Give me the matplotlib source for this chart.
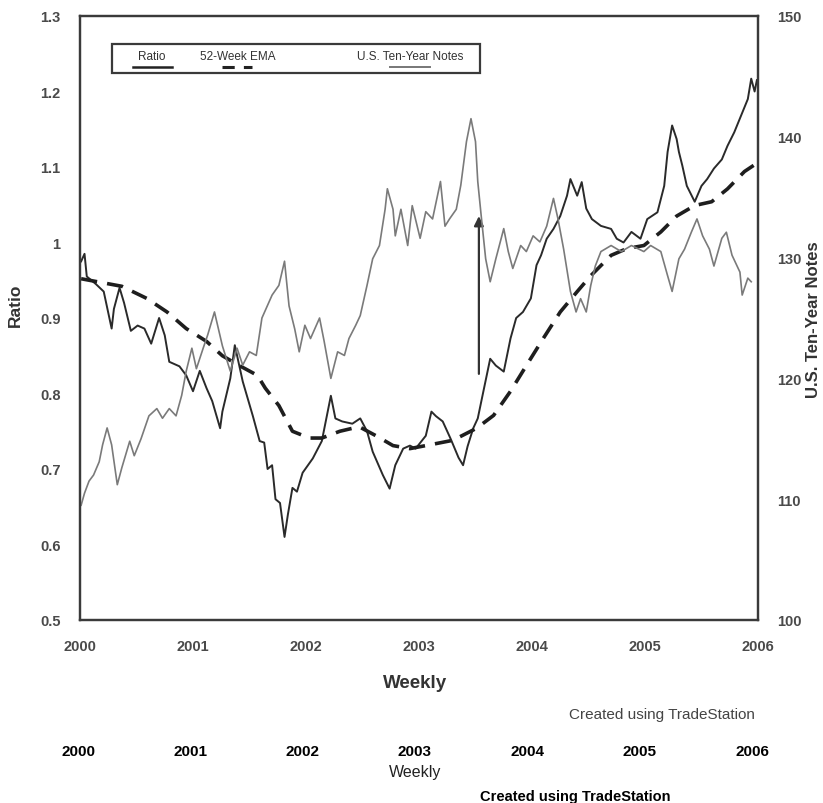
import matplotlib
matplotlib.use("Agg")
import matplotlib.pyplot as plt
from matplotlib.lines import Line2D
from matplotlib.patches import Rectangle

plt.rcParams["font.family"] = ["Liberation Sans", "DejaVu Sans"]

# ---------------- data ----------------
ratio_years = [2000.01, 2000.04, 2000.06, 2000.14, 2000.21, 2000.28, 2000.30, 2000.35, 2000.39,
               2000.45, 2000.51, 2000.57, 2000.63, 2000.70, 2000.75, 2000.79, 2000.88, 2000.94,
               2001.00, 2001.06, 2001.12, 2001.17, 2001.24, 2001.26, 2001.33, 2001.37, 2001.44,
               2001.53, 2001.59, 2001.63, 2001.66, 2001.70, 2001.73, 2001.77, 2001.81, 2001.84,
               2001.88, 2001.92, 2001.97, 2002.06, 2002.14, 2002.22, 2002.26, 2002.32, 2002.41,
               2002.48, 2002.54, 2002.59, 2002.68, 2002.74, 2002.79, 2002.86, 2002.92, 2002.97,
               2003.06, 2003.11, 2003.15, 2003.21, 2003.28, 2003.35, 2003.39, 2003.43, 2003.48,
               2003.52, 2003.57, 2003.63, 2003.68, 2003.75, 2003.81, 2003.86, 2003.92, 2003.99,
               2004.04, 2004.08, 2004.13, 2004.19, 2004.25, 2004.31, 2004.34, 2004.40, 2004.44,
               2004.48, 2004.53, 2004.61, 2004.70, 2004.75, 2004.81, 2004.88, 2004.96, 2005.02,
               2005.11, 2005.17, 2005.20, 2005.24, 2005.28, 2005.30, 2005.33, 2005.37, 2005.44,
               2005.50, 2005.55, 2005.61, 2005.68, 2005.73, 2005.79, 2005.85, 2005.91, 2005.94,
               2005.97, 2005.99]
ratio_values = [0.975, 0.985, 0.955, 0.945, 0.935, 0.886, 0.912, 0.940, 0.920,
                0.883, 0.890, 0.886, 0.866, 0.900, 0.877, 0.842, 0.836, 0.824,
                0.803, 0.830, 0.807, 0.790, 0.754, 0.776, 0.820, 0.864, 0.816,
                0.770, 0.737, 0.735, 0.700, 0.705, 0.660, 0.655, 0.610, 0.640,
                0.675, 0.670, 0.695, 0.714, 0.737, 0.797, 0.767, 0.763, 0.760,
                0.767, 0.750, 0.723, 0.692, 0.674, 0.705, 0.727, 0.731, 0.727,
                0.744, 0.776, 0.770, 0.763, 0.740, 0.715, 0.705, 0.730, 0.754,
                0.767, 0.803, 0.846, 0.837, 0.829, 0.873, 0.900, 0.908, 0.926,
                0.970, 0.983, 1.005, 1.018, 1.035, 1.062, 1.084, 1.062, 1.080,
                1.045, 1.031, 1.022, 1.018, 1.005, 1.000, 1.014, 1.005, 1.031,
                1.040, 1.075, 1.120, 1.155, 1.137, 1.120, 1.102, 1.075, 1.054,
                1.075, 1.084, 1.098, 1.110, 1.128, 1.146, 1.168, 1.190, 1.217,
                1.200, 1.215]

ema_years = [2000.01, 2000.37, 2000.59, 2000.77, 2000.94, 2001.12, 2001.26, 2001.41, 2001.57,
             2001.64, 2001.76, 2001.88, 2002.03, 2002.14, 2002.30, 2002.47, 2002.62, 2002.77,
             2002.92, 2003.06, 2003.30, 2003.51, 2003.66, 2003.81, 2003.95, 2004.10, 2004.25,
             2004.40, 2004.52, 2004.70, 2004.84, 2004.99, 2005.14, 2005.28, 2005.44, 2005.59,
             2005.73, 2005.88, 2005.99]
ema_values = [0.952, 0.942, 0.926, 0.908, 0.886, 0.869, 0.850, 0.837, 0.824,
              0.807, 0.784, 0.750, 0.741, 0.741, 0.750, 0.756, 0.744, 0.731,
              0.727, 0.731, 0.738, 0.754, 0.771, 0.803, 0.837, 0.873, 0.908,
              0.935, 0.956, 0.983, 0.992, 0.996, 1.014, 1.035, 1.049, 1.054,
              1.071, 1.094, 1.105]

notes_years = [2000.01, 2000.04, 2000.08, 2000.12, 2000.17, 2000.20, 2000.24, 2000.28, 2000.33,
               2000.37, 2000.44, 2000.48, 2000.54, 2000.61, 2000.68, 2000.73, 2000.79, 2000.85,
               2000.90, 2000.94, 2000.99, 2001.03, 2001.09, 2001.13, 2001.19, 2001.26, 2001.33,
               2001.39, 2001.44, 2001.50, 2001.56, 2001.61, 2001.70, 2001.76, 2001.81, 2001.85,
               2001.90, 2001.94, 2001.99, 2002.04, 2002.12, 2002.16, 2002.22, 2002.28, 2002.34,
               2002.38, 2002.44, 2002.48, 2002.54, 2002.59, 2002.65, 2002.70, 2002.72, 2002.77,
               2002.79, 2002.84, 2002.90, 2002.94, 2003.01, 2003.06, 2003.12, 2003.19, 2003.23,
               2003.27, 2003.33, 2003.37, 2003.42, 2003.46, 2003.50, 2003.52, 2003.55, 2003.59,
               2003.63, 2003.68, 2003.75, 2003.79, 2003.83, 2003.90, 2003.95, 2004.01, 2004.07,
               2004.13, 2004.19, 2004.23, 2004.28, 2004.34, 2004.39, 2004.43, 2004.48, 2004.52,
               2004.56, 2004.61, 2004.70, 2004.79, 2004.88, 2004.99, 2005.05, 2005.14, 2005.20,
               2005.24, 2005.30, 2005.35, 2005.41, 2005.46, 2005.51, 2005.57, 2005.61, 2005.68,
               2005.72, 2005.77, 2005.84, 2005.86, 2005.91, 2005.94]
notes_values = [109.5, 110.5, 111.5, 112.0, 113.1, 114.5, 115.9, 114.5, 111.2,
                112.6, 114.8, 113.6, 115.0, 116.9, 117.5, 116.7, 117.5, 116.9,
                118.6, 120.6, 122.5, 120.8, 122.5, 123.6, 125.5, 122.7, 120.6,
                122.5, 121.1, 122.2, 121.9, 125.0, 126.9, 127.7, 129.7, 126.0,
                124.1, 122.2, 124.4, 123.3, 125.0, 123.1, 120.0, 122.2, 121.9,
                123.3, 124.4, 125.2, 127.7, 129.9, 131.0, 134.0, 135.7, 134.0,
                131.8, 134.0, 131.0, 134.3, 131.6, 133.8, 133.2, 136.3, 132.6,
                133.2, 134.0, 136.0, 139.6, 141.5, 139.6, 136.3, 133.5, 129.9,
                128.0, 129.9, 132.4, 130.5, 129.1, 131.0, 130.5, 131.8, 131.3,
                132.6, 134.9, 133.2, 130.7, 127.2, 125.5, 126.6, 125.5, 127.7,
                129.3, 130.5, 131.0, 130.5, 131.0, 130.5, 131.0, 130.5, 128.5,
                127.2, 129.9, 130.7, 132.1, 133.2, 131.8, 130.7, 129.3, 131.6,
                132.1, 130.2, 128.8, 126.9, 128.3, 128.0]

year_ticks = [2000, 2001, 2002, 2003, 2004, 2005, 2006]
ratio_ticks = [0.5, 0.6, 0.7, 0.8, 0.9, 1.0, 1.1, 1.2, 1.3]
ratio_tick_labels = ["0.5", "0.6", "0.7", "0.8", "0.9", "1", "1.1", "1.2", "1.3"]
notes_ticks = [100, 110, 120, 130, 140, 150]
arrow_year = 2003.53
arrow_from = 0.826
arrow_to = 1.035

# ---------------- figure ----------------
W, H = 823, 804
fig = plt.figure(figsize=(W / 100, H / 100), dpi=100)
fig.patch.set_facecolor("white")

def fx(px):
    return px / W

def fy(py):
    return 1 - py / H

ax = fig.add_axes([fx(80), fy(621), fx(758) - fx(80), fy(17) - fy(621)])
ax2 = ax.twinx()

ink = "#3a3a3a"
gray_text = "#4a4a4a"

ax.plot(ratio_years, ratio_values, color="#2a2a2a", lw=1.4, zorder=3)
ax.plot(ema_years, ema_values, color="#1e1e1e", lw=2.6, dashes=(4.5, 2.8), zorder=4)
ax2.plot(notes_years, notes_values, color="#7a7a7a", lw=1.2, zorder=2)

ax.set_xlim(2000, 2006)
ax.set_ylim(0.5, 1.3)
ax2.set_ylim(100, 150)

ax.set_xticks(year_ticks)
ax.set_xticklabels([str(y) for y in year_ticks])
ax.set_yticks(ratio_ticks)
ax.set_yticklabels(ratio_tick_labels)
ax2.set_yticks(notes_ticks)
ax2.set_yticklabels([str(v) for v in notes_ticks])

for a in (ax, ax2):
    a.tick_params(length=0, colors=gray_text, labelsize=10.5)
    for s in a.spines.values():
        s.set_color(ink)
        s.set_linewidth(1.6)
for lab in ax.get_xticklabels() + ax.get_yticklabels() + ax2.get_yticklabels():
    lab.set_fontweight("bold")
    lab.set_color(gray_text)
ax.tick_params(axis="x", pad=14)
ax.tick_params(axis="y", pad=14)
ax2.tick_params(axis="y", pad=14)

ax.annotate("", xy=(arrow_year, arrow_to), xytext=(arrow_year, arrow_from),
            arrowprops=dict(arrowstyle="-|>", color="#333333", lw=1.6,
                            mutation_scale=14, shrinkA=0, shrinkB=0), zorder=6)

# axis labels inside the scan
fig.text(fx(15), fy(305), "Ratio", rotation=90, ha="center", va="center",
         fontsize=12.5, fontweight="bold", color="#333333")
fig.text(fx(813), fy(320), "U.S. Ten-Year Notes", rotation=90, ha="center", va="center",
         fontsize=12, fontweight="bold", color="#333333")
fig.text(fx(415), fy(684), "Weekly", ha="center", va="center",
         fontsize=13.5, fontweight="bold", color="#333333")
fig.text(fx(755), fy(715), "Created using TradeStation", ha="right", va="center",
         fontsize=11, color="#444444")

# legend box drawn like the original
fig.patches.append(Rectangle((fx(112), fy(74)), fx(480) - fx(112), fy(45) - fy(74),
                             transform=fig.transFigure, fill=False, edgecolor=ink, lw=1.6))
fig.text(fx(152), fy(57), "Ratio", ha="center", va="center", fontsize=8.5, color="#333333")
fig.text(fx(238), fy(57), "52-Week EMA", ha="center", va="center", fontsize=8.5, color="#333333")
fig.text(fx(410), fy(57), "U.S. Ten-Year Notes", ha="center", va="center", fontsize=8.5,
         color="#333333")
fig.lines.append(Line2D([fx(133), fx(172)], [fy(68), fy(68)], transform=fig.transFigure,
                        color="#222222", lw=1.8))
fig.lines.append(Line2D([fx(222), fx(252)], [fy(68), fy(68)], transform=fig.transFigure,
                        color="#222222", lw=2.2, dashes=(4, 3)))
fig.lines.append(Line2D([fx(390), fx(430)], [fy(68), fy(68)], transform=fig.transFigure,
                        color="#777777", lw=1.4))

# overlay text row under the scan
for y in year_ticks:
    xpix = 78 + (y - 2000) * (752 - 78) / 6
    fig.text(fx(xpix), fy(752), str(y), ha="center", va="center", fontsize=11,
             fontweight="bold", color="black")
fig.text(fx(415), fy(773), "Weekly", ha="center", va="center", fontsize=11.5,
         color="#222222")
fig.text(fx(575), fy(797), "Created using TradeStation", ha="center", va="center",
         fontsize=10.5, fontweight="bold", color="black")

fig.savefig("out.png", dpi=100)
